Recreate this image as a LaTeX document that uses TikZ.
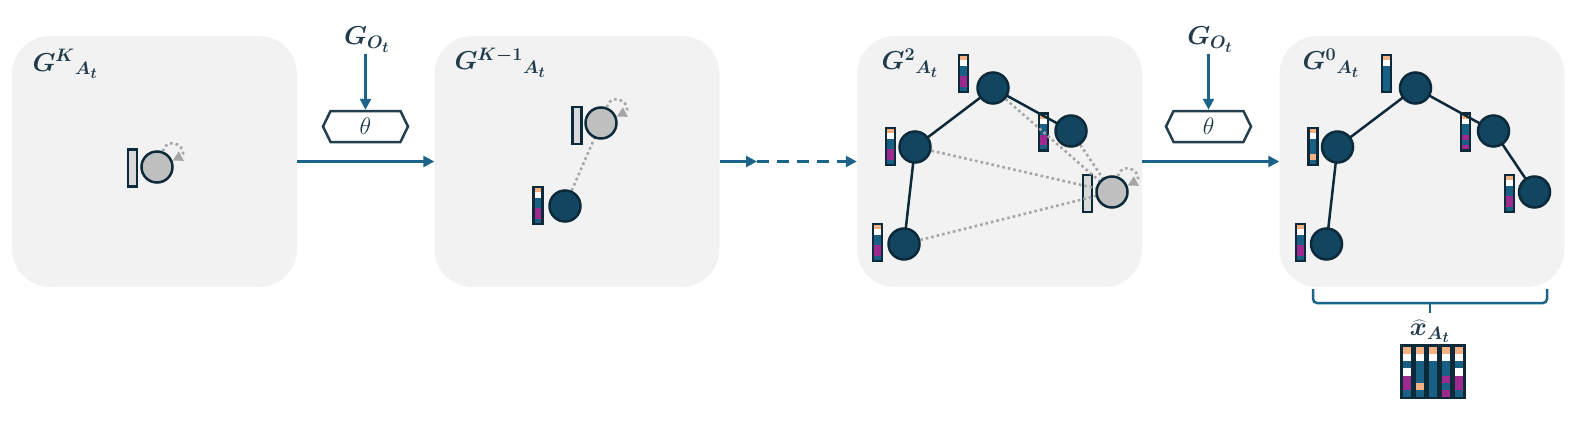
\documentclass[tikz,border=0pt]{standalone}
\usepackage{bm}
\usetikzlibrary{arrows.meta,shapes.symbols}
\definecolor{panelc}{HTML}{F2F2F2}
\definecolor{orangec}{HTML}{F4B183}
\definecolor{tealc}{HTML}{196084}
\definecolor{magc}{HTML}{9E2A90}
\definecolor{nodefill}{HTML}{12455F}
\definecolor{nodeborder}{HTML}{0D2A3A}
\definecolor{grayfill}{HTML}{BFBFBF}
\definecolor{barg}{HTML}{D9D9D9}
\definecolor{dotgray}{HTML}{A6A6A6}
\definecolor{arrowc}{HTML}{1B6388}
\definecolor{textc}{HTML}{1F3B4C}
\definecolor{hexc}{HTML}{233E4C}
\newcommand\featbar[3]{%
  \foreach \c [count=\i from 0] in {#3}{%
    \pgfmathsetmacro\ya{#2-18.5+\i*37/7}%
    \pgfmathsetmacro\yb{#2-18.5+(\i+1)*37/7}%
    \fill[\c] (#1-4.5,\ya) rectangle (#1+4.5,\yb);}%
  \draw[barframe] (#1-4.5,#2-18.5) rectangle (#1+4.5,#2+18.5);}
\newcommand\graybar[2]{%
  \draw[barframe,fill=barg] (#1-4.5,#2-18.5) rectangle (#1+4.5,#2+18.5);}
\begin{document}
\begin{tikzpicture}[x=1pt,y=-1pt,
  panel/.style={rounded corners=38pt,fill=panelc,minimum width=285pt,minimum height=251pt,inner sep=0},
  lbl/.style={text=textc,font=\huge\boldmath,inner sep=1pt,scale=1.25},
  gnode/.style={circle,minimum size=31pt,inner sep=0,draw=nodeborder,line width=2.5pt,fill=grayfill},
  dnode/.style={gnode,fill=nodefill},
  tedge/.style={draw=nodeborder,line width=2.5pt},
  dotedge/.style={draw=dotgray,line width=2.6pt,dash pattern=on 2.6pt off 3pt},
  loopst/.style={dotedge,-{Triangle[length=10pt,width=10pt]}},
  barframe/.style={draw=nodeborder,line width=2.5pt},
  arr/.style={draw=arrowc,line width=2.5pt,-{Triangle[length=11pt,width=11pt]}},
  hexs/.style={signal,signal to=west and east,signal pointer angle=128,draw=hexc,line width=2.5pt,fill=white,minimum width=85pt,minimum height=31pt,inner sep=0},
  brace/.style={draw=arrowc,line width=2.5pt}
]
\useasboundingbox (0,0) rectangle (1581,436);
% panels
\node[panel] (p1) at (154.5,161.5) {};
\node[panel] (p2) at (577,161.5) {};
\node[panel] (p3) at (999.5,161.5) {};
\node[panel] (p4) at (1422,161.5) {};
% panel labels
\node[lbl,anchor=base west] (l1) at (31,71) {$G^{K}{}_{A_t}$};
\node[lbl,anchor=base west] (l2) at (453,70) {$G^{K-1}{}_{A_t}$};
\node[lbl,anchor=base west] (l3) at (880,70) {$G^{2}{}_{A_t}$};
\node[lbl,anchor=base west] (l4) at (1301,70) {$G^{0}{}_{A_t}$};
% top inputs
\node[lbl,anchor=base] (go1) at (367,45) {$G_{O_t}$};
\node[lbl,anchor=base] (go2) at (1210,45) {$G_{O_t}$};
\node[hexs] (h1) at (365.5,126.5) {};
\node[hexs] (h2) at (1208.5,126.5) {};
\node[text=textc,font=\huge,scale=1.15] (t1) at (h1) {$\theta$};
\node[text=textc,font=\huge,scale=1.15] (t2) at (h2) {$\theta$};
\draw[arr] (go1.south -| h1.north) -- (h1.north);
\draw[arr] (go2.south -| h2.north) -- (h2.north);
% main arrows
\coordinate (mid) at (757,161.5);
\draw[arr] (p1.east) -- (p2.west);
\draw[arr] (p2.east) -- (mid);
\draw[arr,dash pattern=on 12pt off 8pt] (mid) -- (p3.west);
\draw[arr] (p3.east) -- (p4.west);
% bars
\graybar{132.5}{168}
\graybar{577}{125.5}
\featbar{538}{205.5}{orangec,white,tealc,tealc,magc,magc,tealc}
\featbar{963.5}{73.5}{orangec,white,tealc,tealc,magc,magc,tealc}
\featbar{890.5}{146.5}{orangec,white,tealc,tealc,magc,magc,tealc}
\featbar{1043.5}{132}{orangec,white,tealc,tealc,magc,magc,tealc}
\featbar{877.5}{242.5}{orangec,white,tealc,tealc,magc,magc,tealc}
\graybar{1087.5}{193.5}
\featbar{1386.5}{73.5}{orangec,white,tealc,tealc,tealc,tealc,tealc}
\featbar{1313}{146.5}{orangec,white,tealc,tealc,tealc,orangec,tealc}
\featbar{1465.5}{132}{orangec,white,tealc,tealc,magc,tealc,magc}
\featbar{1509.5}{193.5}{orangec,white,tealc,tealc,magc,magc,tealc}
\featbar{1300.5}{242.5}{orangec,white,tealc,tealc,magc,magc,tealc}
% node positions
\coordinate (a1) at (157,167);
\coordinate (b1) at (601,123);
\coordinate (b2) at (565,206);
\coordinate (c1) at (993,88);
\coordinate (c2) at (915,147);
\coordinate (c3) at (1071,131);
\coordinate (c4) at (904,244);
\coordinate (c5) at (1112,192);
% edges
\draw[dotedge] (b2) -- (b1);
\draw[tedge] (c1) -- (c2);
\draw[tedge] (c1) -- (c3);
\draw[tedge] (c2) -- (c4);
\draw[dotedge] (c1) -- (c5);
\draw[dotedge] (c2) -- (c5);
\draw[dotedge] (c3) -- (c5);
\draw[dotedge] (c4) -- (c5);
\node[gnode] (na1) at (a1) {};
\node[gnode] (nb1) at (b1) {};
\node[dnode] (nb2) at (b2) {};
\node[dnode] (nc1) at (c1) {};
\node[dnode] (nc2) at (c2) {};
\node[dnode] (nc3) at (c3) {};
\node[dnode] (nc4) at (c4) {};
\node[gnode] (nc5) at (c5) {};
% self loops
\draw[loopst] (na1.70) .. controls +(70:20pt) and +(28:20pt) .. (na1.22);
\draw[loopst] (nb1.70) .. controls +(70:20pt) and +(28:20pt) .. (nb1.22);
\draw[loopst] (nc5.70) .. controls +(70:20pt) and +(28:20pt) .. (nc5.22);
% panel 4 graph
\coordinate (e1) at (1415.5,88);
\coordinate (e2) at (1337.5,147);
\coordinate (e3) at (1493.5,131);
\coordinate (e4) at (1326.5,244);
\coordinate (e5) at (1534.5,192);
\draw[tedge] (e1) -- (e2);
\draw[tedge] (e1) -- (e3);
\draw[tedge] (e2) -- (e4);
\draw[tedge] (e3) -- (e5);
\node[dnode] (d1) at (e1) {};
\node[dnode] (d2) at (e2) {};
\node[dnode] (d3) at (e3) {};
\node[dnode] (d4) at (e4) {};
\node[dnode] (d5) at (e5) {};
% brace
\draw[brace,rounded corners=4pt] (1313,289) -- (1313,303) -- (1547,303) -- (1547,289);
\draw[brace] (1430,303) -- (1430,313);
\node[lbl,inner sep=0pt] (xh) at (1430,331) {$\widehat{x}_{A_t}$};
% matrix
\fill[nodeborder] (1400,344) rectangle (1466,399);
\foreach \colors [count=\j from 0] in {{orangec,white,tealc,white,magc,magc,tealc},{orangec,white,tealc,tealc,tealc,orangec,tealc},{orangec,white,tealc,tealc,tealc,tealc,tealc},{orangec,white,tealc,tealc,magc,tealc,magc},{orangec,white,tealc,white,magc,magc,tealc}}{%
  \foreach \c [count=\i from 0] in \colors {%
    \pgfmathsetmacro\xa{1402.7+\j*13}%
    \pgfmathsetmacro\ya{347.3+\i*7.06}%
    \fill[\c] (\xa,\ya) rectangle (\xa+8.3,\ya+7.06);}}
\end{tikzpicture}
\end{document}
